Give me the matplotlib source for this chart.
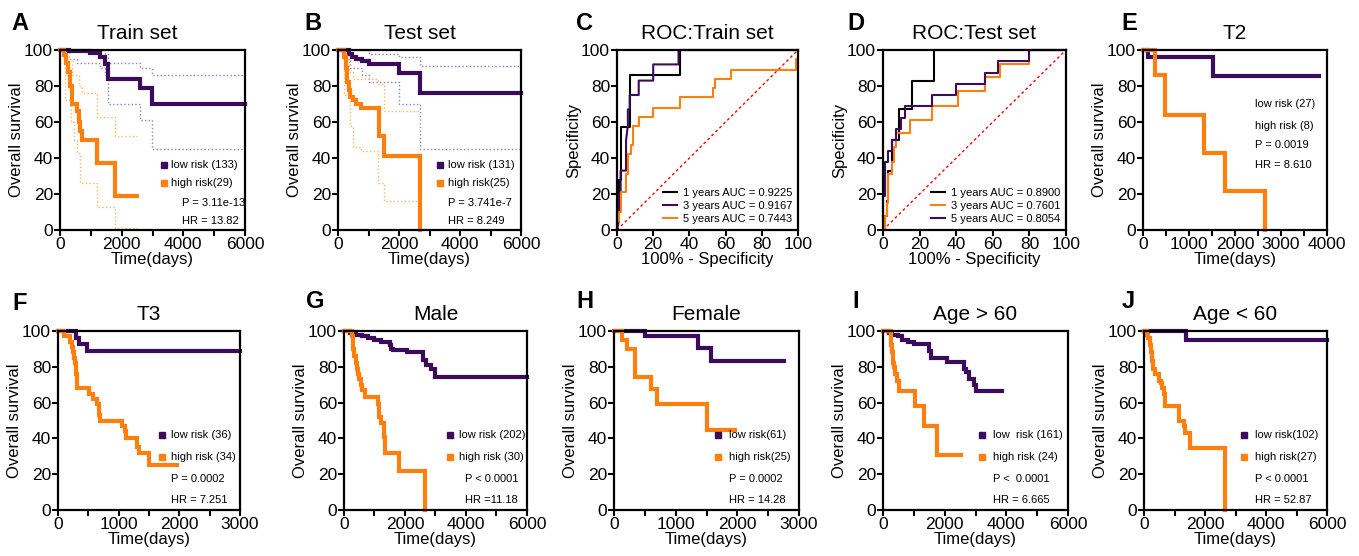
import numpy as np
import matplotlib
matplotlib.use("Agg")
import matplotlib.pyplot as plt

plt.rcParams['font.family'] = ['Liberation Sans', 'DejaVu Sans']

# ---- Kaplan-Meier data (time in days, survival in %) ----
# A: train set
A_low_t = [0, 300, 970, 1300, 1460, 1570, 2600, 2970, 6000]
A_low_s = [100, 99.5, 98.5, 96, 92, 84, 79, 70, 70]
A_low_up_t = [0, 1460, 1570, 2600, 2970, 6000]
A_low_up_s = [100, 98, 93, 90, 86, 86]
A_low_lo_t = [0, 160, 540, 1300, 1460, 1570, 2600, 2970, 6000]
A_low_lo_s = [100, 95, 93, 90, 86, 70, 61, 45, 45]
A_high_t = [0, 120, 200, 270, 320, 380, 540, 600, 650, 700, 1190, 1780, 2490]
A_high_s = [100, 97, 93, 88, 80, 70, 66, 60, 55, 50, 37.5, 19, 19]
A_high_up_t = [0, 300, 400, 600, 700, 1190, 1780, 2490]
A_high_up_s = [100, 95, 86, 80, 76, 63, 52, 52]
A_high_lo_t = [0, 160, 350, 450, 550, 650, 1190, 1780, 2490]
A_high_lo_s = [100, 72, 60, 50, 43, 26, 13, 1, 1]

# B: test set
B_low_t = [0, 350, 450, 600, 800, 1000, 2000, 2700, 6000]
B_low_s = [100, 98, 96, 95, 94, 92, 87, 76, 76]
B_low_up_t = [0, 1000, 2000, 2700, 6000]
B_low_up_s = [100, 98, 96, 91, 91]
B_low_lo_t = [0, 300, 400, 800, 1000, 2000, 2700, 6000]
B_low_lo_s = [100, 95, 90, 86, 82, 70, 45, 45]
B_high_t = [0, 200, 250, 300, 370, 400, 500, 600, 750, 1350, 1500, 2700]
B_high_s = [100, 96, 90, 82, 78, 74, 72, 70, 68, 52, 41, 0]
B_high_up_t = [0, 250, 350, 500, 1300, 1500, 2700]
B_high_up_s = [100, 95, 88, 84, 81, 66, 66]
B_high_lo_t = [0, 200, 400, 500, 750, 1300, 1500, 2700]
B_high_lo_s = [100, 75, 58, 46, 44, 26, 16, 16]

# E: T2
E_low_t = [0, 110, 1520, 3830]
E_low_s = [100, 96, 85.5, 85.5]
E_high_t = [0, 250, 470, 1320, 1775, 2645]
E_high_s = [100, 86, 64, 43, 21.5, 0]

# F: T3
F_low_t = [0, 300, 340, 480, 3000]
F_low_s = [100, 96, 93, 89, 89]
F_high_t = [0, 100, 200, 230, 250, 270, 280, 300, 320, 510, 580, 640, 680, 700,
            1060, 1100, 1120, 1300, 1340, 1500, 1960]
F_high_s = [100, 97, 94, 91, 88, 85, 82, 76, 68, 65, 62, 59, 53, 50,
            47, 44, 40, 35, 32, 25, 25]

# G: male
G_low_t = [0, 200, 400, 600, 800, 1000, 1200, 1500, 1550, 1600, 2060, 2600, 2700,
           2850, 2990, 6000]
G_low_s = [100, 99, 98, 97, 96, 95, 94, 92, 90, 89.5, 88, 84, 81, 79, 74.5, 74.5]
G_high_t = [0, 250, 280, 300, 340, 380, 420, 460, 500, 550, 600, 700, 1100, 1150,
            1200, 1300, 1350, 1800, 2660]
G_high_s = [100, 97, 93, 90, 86, 82, 79, 76, 73, 70, 67, 63, 59, 52, 48.5, 41, 32,
            22, 0]

# H: female
H_low_t = [0, 500, 1370, 1570, 2760]
H_low_s = [100, 97, 90.5, 83, 83]
H_high_t = [0, 124, 205, 340, 600, 700, 1500, 1960]
H_high_s = [100, 95, 90, 74.5, 67.5, 59, 44.5, 44.5]

# I: age > 60
I_low_t = [0, 200, 300, 500, 600, 800, 1000, 1480, 1550, 2075, 2640, 2700, 2800,
           2950, 3000, 3860]
I_low_s = [100, 99, 98, 97, 95, 94, 93, 89, 85, 82.5, 79, 77, 73, 70, 66.5, 66.5]
I_high_t = [0, 260, 280, 320, 350, 400, 450, 508, 1050, 1320, 1750, 2530]
I_high_s = [100, 92, 88, 82, 80, 76, 72, 66.5, 58, 47, 31, 31]

# J: age < 60
J_low_t = [0, 1366, 6000]
J_low_s = [100, 95, 95]
J_high_t = [0, 100, 130, 200, 230, 270, 300, 350, 500, 560, 600, 650, 680, 700,
            1150, 1300, 1330, 1500, 2645]
J_high_s = [100, 98, 96, 92, 88, 83, 79, 76, 72, 71, 68, 65, 62, 58, 50, 47, 43,
            34.5, 0]

# ---- ROC data (100% - specificity, specificity) ----
C_1y_x = [0, 0, 1, 1, 2, 2, 7, 7, 35, 35, 100]
C_1y_y = [0, 10, 10, 28, 28, 57, 57, 86, 86, 100, 100]
C_3y_x = [0, 1, 1, 2, 2, 5, 5, 6, 6, 7, 7, 12, 12, 20, 20, 34, 34, 100]
C_3y_y = [0, 5, 20, 20, 33, 33, 50, 58, 67, 67, 75, 75, 83, 83, 92, 92, 100, 100]
C_5y_x = [0, 0, 1, 1, 2, 2, 5, 5, 6, 6, 8, 8, 9, 9, 12, 12, 20, 20, 35, 35, 53, 53,
          54, 54, 63, 63, 99, 99, 100, 100]
C_5y_y = [0, 5, 5, 10, 10, 21, 21, 31, 31, 42, 42, 47, 47, 58, 58, 63, 63, 68, 68,
          74, 74, 79, 79, 84, 84, 89, 89, 95, 95, 100]

D_1y_x = [0, 1, 1, 2, 2, 3, 3, 5, 5, 9, 9, 16, 16, 28, 28, 100]
D_1y_y = [0, 0, 8, 8, 16, 16, 33, 33, 50, 50, 67, 67, 83, 83, 100, 100]
D_3y_x = [0, 1, 1, 2, 2, 3, 3, 5, 5, 6, 6, 7, 7, 15, 15, 27, 27, 41, 41, 56, 56, 64,
          64, 80, 80, 100]
D_3y_y = [0, 0, 8, 8, 15, 15, 31, 31, 38, 38, 46, 46, 54, 54, 61, 61, 69, 69, 77, 77,
          85, 85, 92, 92, 100, 100]
D_5y_x = [0, 0, 1, 1, 3, 3, 5, 5, 7, 7, 10, 10, 12, 12, 27, 27, 40, 40, 56, 56, 63,
          63, 80, 80, 100]
D_5y_y = [0, 19, 19, 38, 38, 44, 44, 50, 50, 56, 56, 62, 62, 69, 69, 75, 75, 81, 81,
          87, 87, 94, 94, 100, 100]

C_labels = ["1 years AUC = 0.9225", "3 years AUC = 0.9167", "5 years AUC = 0.7443"]
D_labels = ["1 years AUC = 0.8900", "3 years AUC = 0.7601", "5 years AUC = 0.8054"]

PURPLE = '#3b0c5c'
ORANGE = '#ff7f0e'
LIGHT_PURPLE = '#9a7cc4'
LIGHT_ORANGE = '#ffb366'

W, H = 1359, 556
fig = plt.figure(figsize=(W / 100, H / 100), dpi=100)


def new_axes(left, top, width, height):
    return fig.add_axes([left / W, 1 - (top + height) / H, width / W, height / H])


def style_axes(ax, xmax, xstep, xlabel, ylabel, title, title_x=0.5, minor=True):
    ax.set_xlim(0, xmax)
    ax.set_ylim(0, 100)
    ax.set_xticks(np.arange(0, xmax + 1, xstep))
    if minor:
        ax.set_xticks(np.arange(xstep / 2, xmax, xstep), minor=True)
    ax.set_yticks(range(0, 101, 20))
    for s in ax.spines.values():
        s.set_linewidth(1.6)
    ax.tick_params(which='both', direction='out', width=1.5, labelsize=12.5, pad=1)
    ax.tick_params(which='major', length=4)
    ax.tick_params(which='minor', length=4)
    ax.set_xlabel(xlabel, fontsize=12, labelpad=0)
    ax.set_ylabel(ylabel, fontsize=12, labelpad=0)
    ax.set_title(title, fontsize=15, pad=8, x=title_x)


def km(ax, t, s, color, lw=3.0, ls='-'):
    ax.step(t, s, where='post', color=color, lw=lw, ls=ls, clip_on=False,
            solid_joinstyle='miter')


def km_text(ax, labels, xm, xt, xp, ys, markers=True):
    for i, lab in enumerate(labels):
        x = xt if i < 2 else xp
        ax.text(x, ys[i], lab, transform=ax.transAxes, fontsize=8, va='center')
    if markers:
        ax.plot([xm], [ys[0]], marker='s', ms=4, color=PURPLE, transform=ax.transAxes,
                clip_on=False)
        ax.plot([xm], [ys[1]], marker='s', ms=4, color=ORANGE, transform=ax.transAxes,
                clip_on=False)


def roc_legend(ax):
    ax.legend(loc='lower right', frameon=False, fontsize=8, handlelength=1.3,
              labelspacing=0.25, borderaxespad=0.15, handletextpad=0.5)


ys4 = [0.42, 0.297, 0.173, 0.056]
ysA = [0.36, 0.26, 0.15, 0.05]

# ---- A ----
ax = new_axes(60, 50, 185, 180)
style_axes(ax, 6000, 2000, "Time(days)", "Overall survival", "Train set", 0.42)
km(ax, A_low_up_t, A_low_up_s, LIGHT_PURPLE, 1, ':')
km(ax, A_low_lo_t, A_low_lo_s, LIGHT_PURPLE, 1, ':')
km(ax, A_high_up_t, A_high_up_s, LIGHT_ORANGE, 1, ':')
km(ax, A_high_lo_t, A_high_lo_s, LIGHT_ORANGE, 1, ':')
km(ax, A_low_t, A_low_s, PURPLE)
km(ax, A_high_t, A_high_s, ORANGE)
km_text(ax, ["low risk (133)", "high risk(29)", "P = 3.11e-13", "HR = 13.82"],
        0.56, 0.60, 0.66, ysA)

# ---- B ----
ax = new_axes(338, 50, 183, 180)
style_axes(ax, 6000, 2000, "Time(days)", "Overall survival", "Test set", 0.45)
km(ax, B_low_up_t, B_low_up_s, LIGHT_PURPLE, 1, ':')
km(ax, B_low_lo_t, B_low_lo_s, LIGHT_PURPLE, 1, ':')
km(ax, B_high_up_t, B_high_up_s, LIGHT_ORANGE, 1, ':')
km(ax, B_high_lo_t, B_high_lo_s, LIGHT_ORANGE, 1, ':')
km(ax, B_low_t, B_low_s, PURPLE)
km(ax, B_high_t, B_high_s, ORANGE)
km_text(ax, ["low risk (131)", "high risk(25)", "P = 3.741e-7", "HR = 8.249"],
        0.56, 0.60, 0.60, ysA)

# ---- C ----
ax = new_axes(617, 50, 181, 180)
style_axes(ax, 100, 20, "100% - Specificity", "Specificity", "ROC:Train set",
           minor=False)
ax.plot([0, 100], [0, 100], color='red', lw=1, ls=(0, (2, 2)))
ax.plot(C_1y_x, C_1y_y, color='black', lw=1.5, label=C_labels[0], clip_on=False)
ax.plot(C_3y_x, C_3y_y, color=PURPLE, lw=1.5, label=C_labels[1], clip_on=False)
ax.plot(C_5y_x, C_5y_y, color=ORANGE, lw=1.5, label=C_labels[2], clip_on=False)
roc_legend(ax)

# ---- D ----
ax = new_axes(883, 50, 183, 180)
style_axes(ax, 100, 20, "100% - Specificity", "Specificity", "ROC:Test set",
           minor=False)
ax.plot([0, 100], [0, 100], color='red', lw=1, ls=(0, (2, 2)))
ax.plot(D_1y_x, D_1y_y, color='black', lw=1.5, label=D_labels[0], clip_on=False)
ax.plot(D_3y_x, D_3y_y, color=ORANGE, lw=1.5, label=D_labels[1], clip_on=False)
ax.plot(D_5y_x, D_5y_y, color=PURPLE, lw=1.5, label=D_labels[2], clip_on=False)
roc_legend(ax)

# ---- E ----
ax = new_axes(1143, 50, 184, 180)
style_axes(ax, 4000, 1000, "Time(days)", "Overall survival", "T2")
km(ax, E_low_t, E_low_s, PURPLE)
km(ax, E_high_t, E_high_s, ORANGE)
km_text(ax, ["low risk (27)", "high risk (8)", "P = 0.0019", "HR = 8.610"],
        0, 0.61, 0.61, [0.70, 0.58, 0.47, 0.36], markers=False)

# ---- F ----
ax = new_axes(58, 331, 182, 179)
style_axes(ax, 3000, 1000, "Time(days)", "Overall survival", "T3")
km(ax, F_low_t, F_low_s, PURPLE)
km(ax, F_high_t, F_high_s, ORANGE)
km_text(ax, ["low risk (36)", "high risk (34)", "P = 0.0002", "HR = 7.251"],
        0.574, 0.62, 0.62, ys4)

# ---- G ----
ax = new_axes(344, 331, 183, 179)
style_axes(ax, 6000, 2000, "Time(days)", "Overall survival", "Male")
km(ax, G_low_t, G_low_s, PURPLE)
km(ax, G_high_t, G_high_s, ORANGE)
km_text(ax, ["low risk (202)", "high risk (30)", "P < 0.0001", "HR =11.18"],
        0.58, 0.63, 0.66, ys4)

# ---- H ----
ax = new_axes(614, 331, 185, 179)
style_axes(ax, 3000, 1000, "Time(days)", "Overall survival", "Female")
km(ax, H_low_t, H_low_s, PURPLE)
km(ax, H_high_t, H_high_s, ORANGE)
km_text(ax, ["low risk(61)", "high risk(25)", "P = 0.0002", "HR = 14.28"],
        0.56, 0.62, 0.62, ys4)

# ---- I ----
ax = new_axes(883, 331, 185, 179)
style_axes(ax, 6000, 2000, "Time(days)", "Overall survival", "Age > 60")
km(ax, I_low_t, I_low_s, PURPLE)
km(ax, I_high_t, I_high_s, ORANGE)
km_text(ax, ["low  risk (161)", "high risk (24)", "P <  0.0001", "HR = 6.665"],
        0.535, 0.595, 0.595, ys4)

# ---- J ----
ax = new_axes(1144, 331, 183, 179)
style_axes(ax, 6000, 2000, "Time(days)", "Overall survival", "Age < 60")
km(ax, J_low_t, J_low_s, PURPLE)
km(ax, J_high_t, J_high_s, ORANGE)
km_text(ax, ["low risk(102)", "high risk(27)", "P < 0.0001", "HR = 52.87"],
        0.545, 0.605, 0.605, ys4)

# panel letters
letters = [("A", 11, 12), ("B", 304, 12), ("C", 576, 12), ("D", 847, 12),
           ("E", 1121, 12), ("F", 12, 292), ("G", 306, 290), ("H", 576, 290),
           ("I", 852, 290), ("J", 1122, 290)]
for lab, x, y in letters:
    fig.text(x / W, 1 - y / H, lab, fontsize=17, fontweight='bold', va='top', ha='left')

fig.savefig("out.png", dpi=100)
